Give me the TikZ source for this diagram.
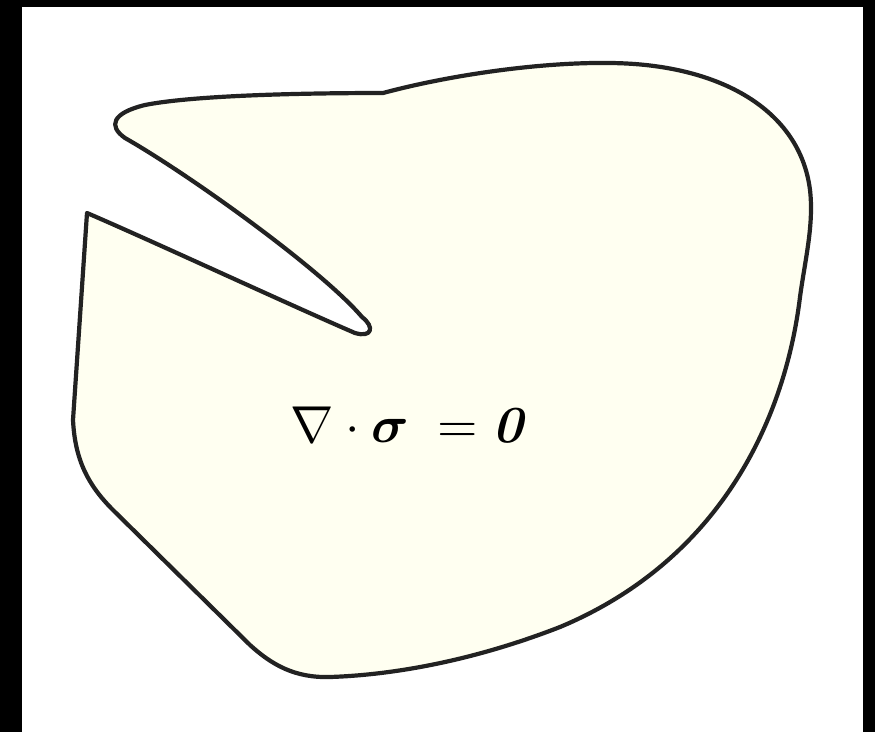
\documentclass[tikz,border=0pt]{standalone}
\usepackage{xcolor}
\definecolor{body}{RGB}{255,255,241}
\definecolor{outline}{RGB}{34,34,34}
\usepackage{tikz}
\usetikzlibrary{positioning}
\usepackage{amsmath, amssymb}

\begin{document}
\begin{tikzpicture}[x=1pt, y=-1pt]
        \useasboundingbox (0,0) rectangle (875,732);
        \fill[black] (0,0) rectangle (875,732);
        \fill[white] (22,7) rectangle (863,732);
        % cracked body
        \draw[outline, fill=body, line width=4.2pt, line join=round]
            (383,93) .. controls (450,75) and (540,62) .. (610,63)
            .. controls (720,64) and (800,110) .. (810,190)
            .. controls (814,225) and (805,260) .. (800,297)
            .. controls (785,420) and (720,560) .. (560,627)
            .. controls (470,662) and (390,675) .. (330,677)
            .. controls (295,678) and (272,665) .. (250,645)
            -- (113,510)
            .. controls (88,485) and (75,460) .. (73,420)
            -- (87,213)
            .. controls (150,240) and (290,305) .. (355,333)
            .. controls (372,338) and (375,327) .. (362,317)
            .. controls (322,270) and (190,175) .. (125,138)
            .. controls (108,126) and (112,113) .. (145,105)
            .. controls (190,96) and (290,93) .. cycle;
        \node[scale=5.2] (eq) at (407,425) {$\nabla\cdot\boldsymbol{\sigma}\;=\mbox{\bfseries\itshape 0}$};
    \end{tikzpicture}
\end{document}
